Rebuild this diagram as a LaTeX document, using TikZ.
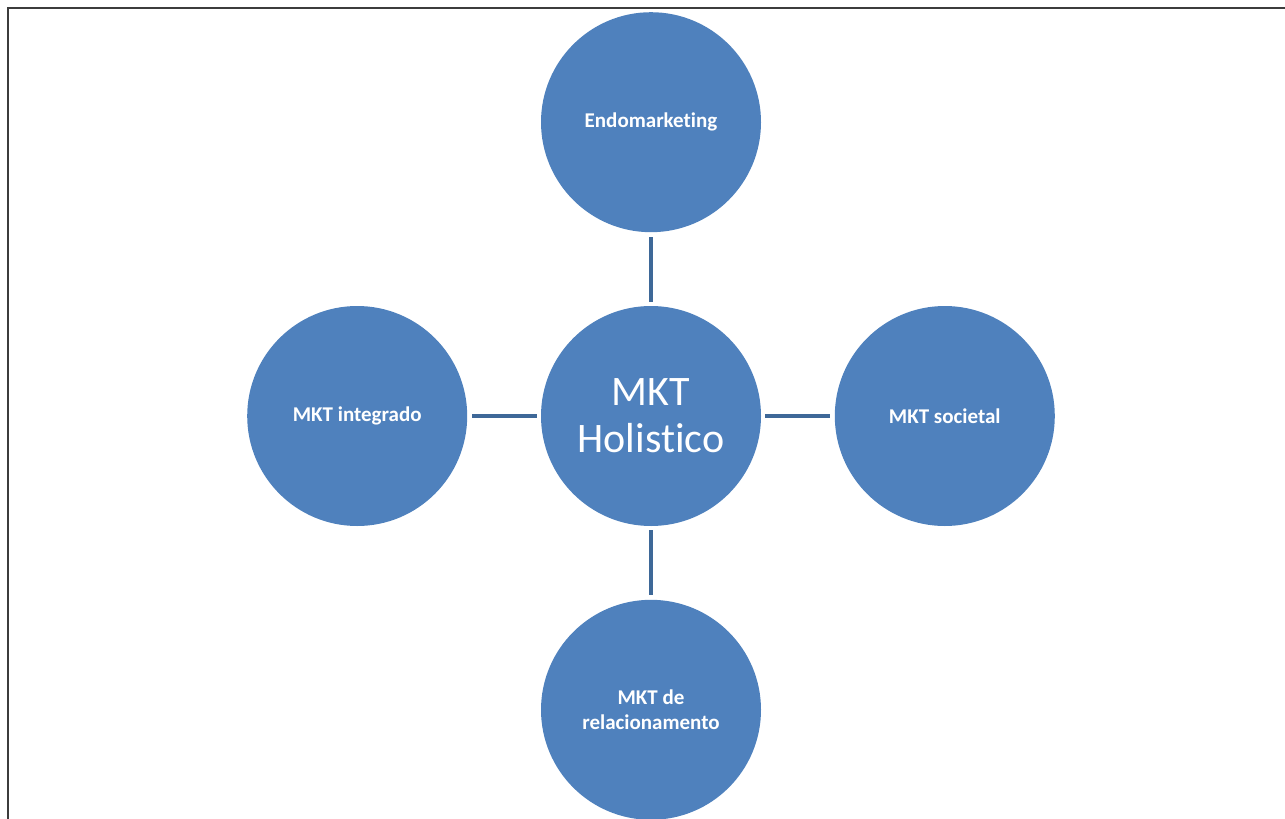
\documentclass[tikz,border=0pt]{standalone}
\usepackage{fontspec}
\setmainfont[Ligatures=NoCommon]{Carlito}
\usepackage{xcolor}
\usepackage{tikz}
\usetikzlibrary{positioning}
\definecolor{DiscFill}{HTML}{4F81BD}
\definecolor{LinkBlue}{HTML}{3E6898}
\definecolor{FrameGray}{HTML}{3C3C3C}

\tikzset{
  disc/.style={circle,fill=DiscFill,text=white,minimum size=110pt,inner sep=0pt,align=center},
  outer/.style={disc,font=\fontsize{10.5}{12.5}\selectfont\bfseries},
  link/.style={LinkBlue,line width=2pt,shorten <=2pt,shorten >=2pt}
}

\begin{document}
\begin{tikzpicture}[x=0.5pt,y=-0.5pt,node distance=36.5pt]
\useasboundingbox (0,0) rectangle (1285,819);
\draw[FrameGray,line width=1pt] (8,819)--(8,8)--(1285,8);
% hub and its four themes
\node[disc,font=\fontsize{21}{23.5}\selectfont] (hub) at (651,416) {MKT\\Holistico};
\node[outer,above=of hub] (endo) {Endomarketing};
\node[outer,left=of hub] (integ) {MKT integrado};
\node[outer,right=of hub] (soc) {MKT societal};
\node[outer,below=of hub] (rel) {MKT de\\relacionamento};
\draw[link] (hub.north)--(endo.south);
\draw[link] (hub.west)--(integ.east);
\draw[link] (hub.east)--(soc.west);
\draw[link] (hub.south)--(rel.north);
\end{tikzpicture}
\end{document}
